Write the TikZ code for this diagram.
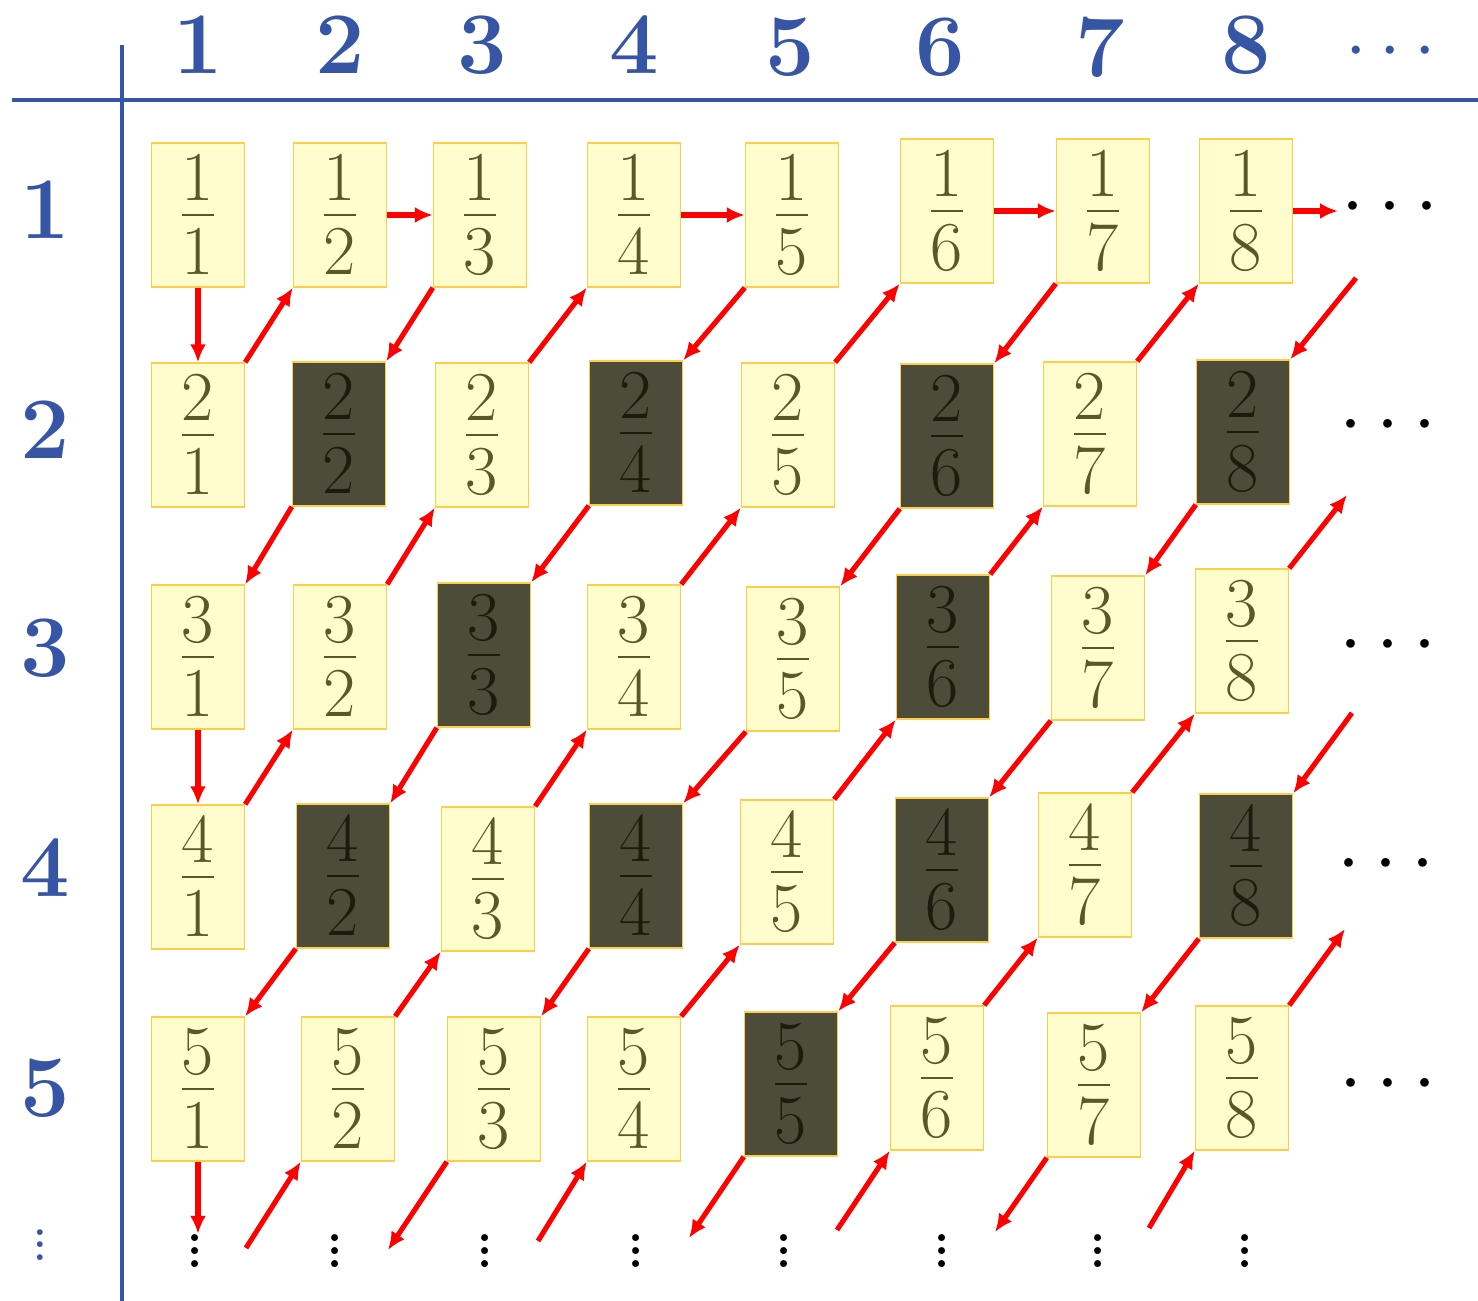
\RequirePackage{fix-cm}
\documentclass[tikz,border=0pt]{standalone}
\usepackage{amsmath}
\usepackage{exscale}
\usepackage{tikz}
\usetikzlibrary{arrows.meta}
\usepackage{xcolor}
\definecolor{CantorBlue}{RGB}{55,85,165}
\definecolor{CantorYellow}{RGB}{255,252,206}
\definecolor{CantorGold}{RGB}{255,205,70}
\definecolor{CantorDark}{RGB}{77,76,58}
\definecolor{CantorInk}{RGB}{88,88,42}
\definecolor{CantorDarkInk}{RGB}{28,28,14}
\newcommand{\tallvdots}{\vbox{\baselineskip=7.6pt\lineskiplimit=0pt\hbox{.}\hbox{.}\hbox{.}}}

\begin{document}
\begin{tikzpicture}[
x=0.02cm,y=-0.02cm,
fracbox/.style={rectangle,draw=CantorGold,line width=0.8pt,fill=CantorYellow,text=CantorInk,
minimum width=1.86cm,minimum height=2.88cm,inner sep=0pt,font=\fontsize{57}{64}\selectfont},
darkbox/.style={fracbox,fill=CantorDark,text=CantorDarkInk},
headnum/.style={text=CantorBlue,inner sep=0pt,font=\fontsize{50}{60}\selectfont\bfseries},
moredots/.style={inner sep=0pt,anchor=base,font=\fontsize{47}{56}\selectfont},
downdots/.style={inner sep=0pt,font=\fontsize{48}{52}\selectfont},
arrow/.style={-{Latex[length=3.6mm,width=3.2mm]},line width=2.9pt,draw=red}
]
\useasboundingbox (0,0) rectangle (1478,1301);
\draw[CantorBlue,line width=2.3pt] (12,100) -- (1478,100);
\draw[CantorBlue,line width=2.3pt] (122,45) -- (122,1301);

% column and row headings
\node[headnum] (c1) at (198,45) {1};
\node[headnum] (c2) at (340,45) {2};
\node[headnum] (c3) at (482,45) {3};
\node[headnum] (c4) at (634,45) {4};
\node[headnum] (c5) at (790,47) {5};
\node[headnum] (c6) at (940,47) {6};
\node[headnum] (c7) at (1100,47) {7};
\node[headnum] (c8) at (1246,45) {8};
\node[moredots,text=CantorBlue,font=\fontsize{44}{52}\selectfont] (cdots) at (1397,70) {$\cdots$};
\node[headnum] (r1) at (45,210) {1};
\node[headnum] (r2) at (45,430) {2};
\node[headnum] (r3) at (45,648) {3};
\node[headnum] (r4) at (45,868) {4};
\node[headnum] (r5) at (45,1088) {5};
\node[inner sep=0pt,text=CantorBlue,font=\fontsize{40}{44}\selectfont] (rdots) at (40,1245) {\vbox{\baselineskip=7pt\lineskiplimit=0pt\hbox{.}\hbox{.}\hbox{.}}};

% the fractions
\node[fracbox] (f11) at (198,215) {$\frac{1}{1}$};
\node[fracbox] (f12) at (340,215) {$\frac{1}{2}$};
\node[fracbox] (f13) at (480,215) {$\frac{1}{3}$};
\node[fracbox] (f14) at (634,215) {$\frac{1}{4}$};
\node[fracbox] (f15) at (792,215) {$\frac{1}{5}$};
\node[fracbox] (f16) at (947,211) {$\frac{1}{6}$};
\node[fracbox] (f17) at (1103,211) {$\frac{1}{7}$};
\node[fracbox] (f18) at (1246,211) {$\frac{1}{8}$};

\node[fracbox] (f21) at (198,435) {$\frac{2}{1}$};
\node[darkbox] (f22) at (339,434) {$\frac{2}{2}$};
\node[fracbox] (f23) at (482,435) {$\frac{2}{3}$};
\node[darkbox] (f24) at (636,433) {$\frac{2}{4}$};
\node[fracbox] (f25) at (788,435) {$\frac{2}{5}$};
\node[darkbox] (f26) at (947,436) {$\frac{2}{6}$};
\node[fracbox] (f27) at (1090,434) {$\frac{2}{7}$};
\node[darkbox] (f28) at (1243,432) {$\frac{2}{8}$};

\node[fracbox] (f31) at (198,657) {$\frac{3}{1}$};
\node[fracbox] (f32) at (340,657) {$\frac{3}{2}$};
\node[darkbox] (f33) at (484,655) {$\frac{3}{3}$};
\node[fracbox] (f34) at (634,657) {$\frac{3}{4}$};
\node[fracbox] (f35) at (793,659) {$\frac{3}{5}$};
\node[darkbox] (f36) at (943,647) {$\frac{3}{6}$};
\node[fracbox] (f37) at (1098,648) {$\frac{3}{7}$};
\node[fracbox] (f38) at (1242,641) {$\frac{3}{8}$};

\node[fracbox] (f41) at (198,877) {$\frac{4}{1}$};
\node[darkbox] (f42) at (343,876) {$\frac{4}{2}$};
\node[fracbox] (f43) at (488,879) {$\frac{4}{3}$};
\node[darkbox] (f44) at (636,876) {$\frac{4}{4}$};
\node[fracbox] (f45) at (787,872) {$\frac{4}{5}$};
\node[darkbox] (f46) at (942,870) {$\frac{4}{6}$};
\node[fracbox] (f47) at (1085,865) {$\frac{4}{7}$};
\node[darkbox] (f48) at (1246,866) {$\frac{4}{8}$};

\node[fracbox] (f51) at (198,1089) {$\frac{5}{1}$};
\node[fracbox] (f52) at (348,1089) {$\frac{5}{2}$};
\node[fracbox] (f53) at (494,1089) {$\frac{5}{3}$};
\node[fracbox] (f54) at (634,1089) {$\frac{5}{4}$};
\node[darkbox] (f55) at (791,1084) {$\frac{5}{5}$};
\node[fracbox] (f56) at (937,1078) {$\frac{5}{6}$};
\node[fracbox] (f57) at (1094,1085) {$\frac{5}{7}$};
\node[fracbox] (f58) at (1242,1078) {$\frac{5}{8}$};

% dots going on
\node[moredots] (h1) at (1397,226) {$\cdots$};
\node[moredots] (h2) at (1395,444) {$\cdots$};
\node[moredots] (h3) at (1395,664) {$\cdots$};
\node[moredots] (h4) at (1393,883) {$\cdots$};
\node[moredots] (h5) at (1395,1103) {$\cdots$};
\node[downdots] (v1) at (195,1251) {\tallvdots};
\node[downdots] (v2) at (335,1251) {\tallvdots};
\node[downdots] (v3) at (485,1251) {\tallvdots};
\node[downdots] (v4) at (636,1251) {\tallvdots};
\node[downdots] (v5) at (784,1251) {\tallvdots};
\node[downdots] (v6) at (942,1251) {\tallvdots};
\node[downdots] (v7) at (1098,1251) {\tallvdots};
\node[downdots] (v8) at (1245,1251) {\tallvdots};

\coordinate (p1) at (246,1248);
\coordinate (p2) at (388,1250);
\coordinate (p3) at (538,1241);
\coordinate (p4) at (1338,211);
\coordinate (p5) at (1356,278);
\coordinate (p6) at (689,1238);
\coordinate (p7) at (837,1230);
\coordinate (p8) at (1347,495);
\coordinate (p9) at (1352,713);
\coordinate (p10) at (995,1232);
\coordinate (p11) at (1149,1228);
\coordinate (p12) at (1345,929);

% the zig-zag
\draw[arrow] (f11.south) -- (f21.north); \draw[arrow] (f21.north east) -- (f12.south west);
\draw[arrow] (f12.east) -- (f13.west); \draw[arrow] (f13.south west) -- (f22.north east);
\draw[arrow] (f22.south west) -- (f31.north east); \draw[arrow] (f31.south) -- (f41.north);
\draw[arrow] (f41.north east) -- (f32.south west); \draw[arrow] (f32.north east) -- (f23.south west);
\draw[arrow] (f23.north east) -- (f14.south west); \draw[arrow] (f14.east) -- (f15.west);
\draw[arrow] (f15.south west) -- (f24.north east); \draw[arrow] (f24.south west) -- (f33.north east);
\draw[arrow] (f33.south west) -- (f42.north east); \draw[arrow] (f42.south west) -- (f51.north east);
\draw[arrow] (f51.south) -- (f51.south |- v1.north); \draw[arrow] (p1) -- (f52.south west);
\draw[arrow] (f52.north east) -- (f43.south west); \draw[arrow] (f43.north east) -- (f34.south west);
\draw[arrow] (f34.north east) -- (f25.south west); \draw[arrow] (f25.north east) -- (f16.south west);
\draw[arrow] (f16.east) -- (f17.west); \draw[arrow] (f17.south west) -- (f26.north east);
\draw[arrow] (f26.south west) -- (f35.north east); \draw[arrow] (f35.south west) -- (f44.north east);
\draw[arrow] (f44.south west) -- (f53.north east); \draw[arrow] (f53.south west) -- (p2);
\draw[arrow] (p3) -- (f54.south west); \draw[arrow] (f54.north east) -- (f45.south west);
\draw[arrow] (f45.north east) -- (f36.south west); \draw[arrow] (f36.north east) -- (f27.south west);
\draw[arrow] (f27.north east) -- (f18.south west); \draw[arrow] (f18.east) -- (p4);
\draw[arrow] (p5) -- (f28.north east); \draw[arrow] (f28.south west) -- (f37.north east);
\draw[arrow] (f37.south west) -- (f46.north east); \draw[arrow] (f46.south west) -- (f55.north east);
\draw[arrow] (f55.south west) -- (p6); \draw[arrow] (p7) -- (f56.south west);
\draw[arrow] (f56.north east) -- (f47.south west); \draw[arrow] (f47.north east) -- (f38.south west);
\draw[arrow] (f38.north east) -- (p8); \draw[arrow] (p9) -- (f48.north east);
\draw[arrow] (f48.south west) -- (f57.north east); \draw[arrow] (f57.south west) -- (p10);
\draw[arrow] (p11) -- (f58.south west); \draw[arrow] (f58.north east) -- (p12);
\end{tikzpicture}
\end{document}
